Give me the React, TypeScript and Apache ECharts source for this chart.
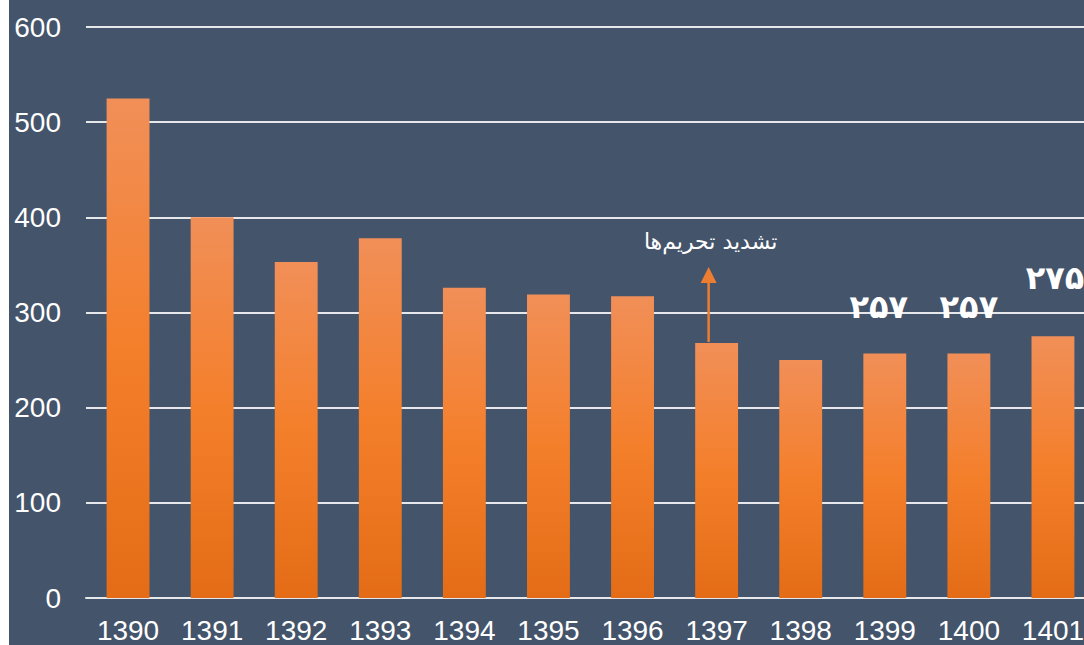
import React, { useEffect, useRef } from "react";
import * as echarts from "echarts";

const categories = ["1390", "1391", "1392", "1393", "1394", "1395", "1396", "1397", "1398", "1399", "1400", "1401"];
const values = [525, 400, 353, 378, 326, 319, 317, 268, 250, 257, 257, 275];
const valueLabels = ["", "", "", "", "", "", "", "", "", "۲۵۷", "۲۵۷", "۲۷۵"];
const yTicks = { min: 0, max: 600, interval: 100 };
const annotationText = "تشدید تحریم‌ها";
const annotationCategory = "1397";

export default function App() {
  const ref = useRef<HTMLDivElement>(null);
  useEffect(() => {
    if (!ref.current) return;
    const chart = echarts.init(ref.current, undefined, { renderer: "svg" });
    const labelDist = [0, 0, 0, 0, 0, 0, 0, 0, 0, 30, 30, 42];
    const labelDx = [0, 0, 0, 0, 0, 0, 0, 0, 0, -6, 0, 2];
    const option: any = {
      animation: false,
      backgroundColor: "#44546A",
      grid: { left: 77, right: 14, top: 27, bottom: 47, containLabel: false },
      xAxis: {
        type: "category",
        data: categories,
        axisLine: { show: true, lineStyle: { color: "#E6E8EC", width: 2 } },
        axisTick: { show: false },
        axisLabel: {
          color: "#FFFFFF",
          fontSize: 28,
          fontFamily: "Liberation Sans, Arial, sans-serif",
          margin: 18,
        },
      },
      yAxis: {
        type: "value",
        min: yTicks.min,
        max: yTicks.max,
        interval: yTicks.interval,
        axisLine: { show: false },
        axisTick: { show: false },
        splitLine: { lineStyle: { color: "#E6E8EC", width: 2 } },
        axisLabel: {
          color: "#FFFFFF",
          fontSize: 28,
          fontFamily: "Liberation Sans, Arial, sans-serif",
          margin: 25,
        },
      },
      series: [
        {
          type: "bar",
          barCategoryGap: "49%",
          data: values.map((v, i) => ({
            value: v,
            label: valueLabels[i]
              ? {
                  show: true,
                  position: "top",
                  distance: labelDist[i],
                  offset: [labelDx[i], 0],
                  formatter: () => valueLabels[i],
                  color: "#FFFFFF",
                  fontSize: 32,
                  fontWeight: "bold",
                  fontFamily: "DejaVu Sans, sans-serif",
                }
              : { show: false },
          })),
          itemStyle: {
            color: new echarts.graphic.LinearGradient(0, 0, 0, 1, [
              { offset: 0, color: "#F18F58" },
              { offset: 0.5, color: "#F47F2B" },
              { offset: 1, color: "#E46C16" },
            ]),
          },
        },
      ],
    };
    chart.setOption(option);
    const idx = categories.indexOf(annotationCategory);
    const p = chart.convertToPixel({ seriesIndex: 0 }, [idx, values[idx]]) as number[];
    const ax = p[0] - 8;
    const barTop = p[1];
    chart.setOption({
      graphic: [
        {
          type: "line",
          shape: { x1: ax, y1: barTop - 1, x2: ax, y2: barTop - 70 },
          style: { stroke: "#ED7D31", lineWidth: 2.5 },
        },
        {
          type: "polygon",
          shape: { points: [[ax - 8, barTop - 60], [ax + 8, barTop - 60], [ax, barTop - 76]] },
          style: { fill: "#ED7D31" },
        },
        {
          type: "text",
          x: ax + 2,
          y: barTop - 101,
          style: {
            text: annotationText,
            fill: "#FFFFFF",
            fontSize: 22,
            fontFamily: "DejaVu Sans, sans-serif",
            align: "center",
            verticalAlign: "middle",
          },
        },
      ],
    });
    return () => chart.dispose();
  }, []);
  return (
    <div
      style={{
        position: "fixed",
        left: 0,
        top: 0,
        width: 1084,
        height: 645,
        background: "#FFFFFF",
        overflow: "hidden",
      }}
    >
      <div ref={ref} style={{ position: "absolute", left: 9, top: 0, width: 1100, height: 645 }} />
    </div>
  );
}
